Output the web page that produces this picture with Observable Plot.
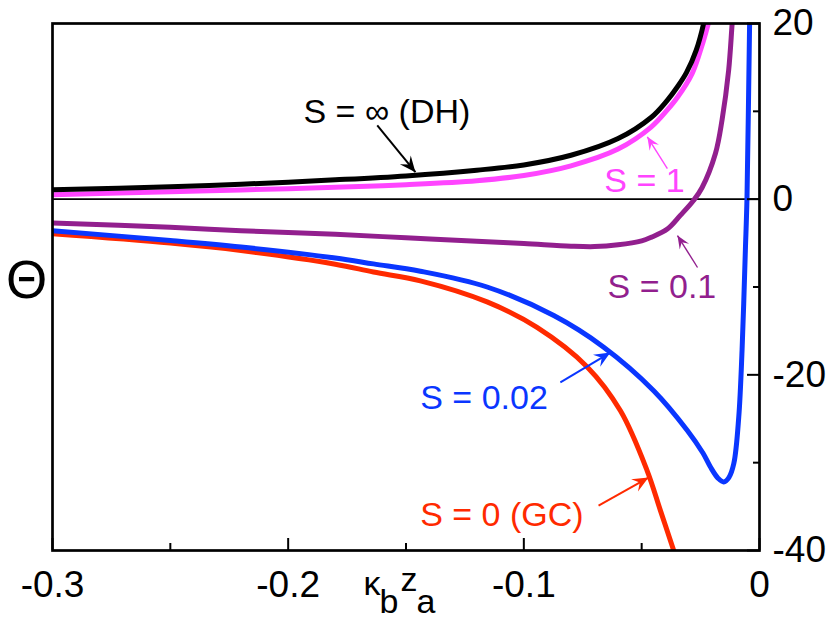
<!DOCTYPE html>
<html>
<head>
<meta charset="utf-8">
<script src="https://cdn.jsdelivr.net/npm/d3@7"></script>
<script src="https://cdn.jsdelivr.net/npm/@observablehq/plot@0.6"></script>
<style>
  html, body { margin: 0; padding: 0; background: #fff; }
</style>
</head>
<body>
<div id="chart"></div>
<script>
// ---- data ----
const xGC  = [-0.30, -0.25, -0.22, -0.18, -0.1638, -0.1439, -0.1156, -0.0944, -0.0731, -0.059, -0.0477, -0.0421, -0.0364, -0.034];
const yGC  = [-3.95, -5.0, -5.85, -7.4, -8.3, -9.3, -11.7, -14.6, -19.1, -24.1, -30.9, -35.4, -40, -42];

const xS002 = [-0.30, -0.25, -0.22, -0.18, -0.1638, -0.1439, -0.1156, -0.0873, -0.0661, -0.0449, -0.0307, -0.0240, -0.0208, -0.0175, -0.0152, -0.013, -0.0109, -0.0088, -0.0074, -0.006, -0.0053, -0.0042, -0.0040];
const yS002 = [-3.6, -4.7, -5.45, -6.7, -7.37, -8.2, -10.0, -13.25, -16.85, -21.8, -26.3, -28.9, -30.5, -31.8, -32.2, -31.7, -30.1, -24.8, -17.2, -5.85, 0.2, 20, 22];

const xS01 = [-0.30, -0.25, -0.22, -0.18, -0.15, -0.12, -0.10, -0.08, -0.07, -0.06, -0.05, -0.046, -0.0391, -0.0336, -0.028, -0.0244, -0.0187, -0.0159, -0.0131, -0.0116, -0.0110];
const yS01 = [-2.7, -3.2, -3.6, -4.0, -4.4, -4.8, -5.05, -5.35, -5.4, -5.2, -4.75, -4.35, -3.4, -1.85, -0.15, 1.3, 5.2, 9.0, 14.65, 20, 22];

const xS1 = [-0.30, -0.25, -0.22, -0.18, -0.15, -0.12, -0.10, -0.08, -0.06, -0.046, -0.0393, -0.0348, -0.0286, -0.0244, -0.0217, -0.0200];
const yS1 = [0.5, 0.85, 1.05, 1.35, 1.65, 2.1, 2.7, 3.8, 5.7, 8.2, 10.1, 11.6, 14.3, 17.5, 20, 21.5];

const xDH = [-0.30, -0.25, -0.22, -0.18, -0.15, -0.12, -0.10, -0.08, -0.06, -0.046, -0.0393, -0.0348, -0.031, -0.0268, -0.0237, -0.0220];
const yDH = [1.07, 1.4, 1.7, 2.2, 2.65, 3.3, 3.9, 5.0, 6.9, 9.3, 11.2, 12.8, 14.4, 17.0, 20, 22.5];

const seriesX = [xGC, xS002, xS01, xS1, xDH];
const seriesY = [yGC, yS002, yS01, yS1, yDH];
const seriesColors = ["#ff2a00", "#0a36ff", "#921f8e", "#ff45ff", "#000000"];

// annotation labels (text, anchor position in data units)
const labelText = ["S = 0 (GC)", "S = 0.02", "S = 0.1", "S = 1", "S = ∞ (DH)"];
const labelX = [-0.1093, -0.1169, -0.0414, -0.0488, -0.1581];
const labelY = [-36.0, -22.6, -9.96, 2.0, 9.86];

// arrows: tail (x1,y1) -> head (x2,y2)
const arrowX1 = [-0.0683, -0.0845, -0.0263, -0.0391, -0.1622];
const arrowY1 = [-34.88, -20.87, -7.78, 3.49, 8.39];
const arrowX2 = [-0.0471, -0.0633, -0.0348, -0.0476, -0.1460];
const arrowY2 = [-31.69, -17.46, -4.14, 7.10, 3.07];
const arrowWidth = [2, 2, 1.4, 1.4, 2];
const arrowBig = [true, true, false, false, true];

const xMajor = [-0.3, -0.2, -0.1, 0];
const xMinor = [-0.25, -0.15, -0.05];
const yMajor = [20, 0, -20, -40];
const yMinor = [10, -10, -30];

// ---- build tables ----
const lineMarks = seriesX.map((xs, i) =>
  Plot.line(xs.map((x, j) => ({x, y: seriesY[i][j]})), {
    x: "x", y: "y", stroke: seriesColors[i], strokeWidth: 5,
    curve: "catmull-rom", clip: true, strokeLinejoin: "round"
  })
);

const labels = labelText.map((t, i) => ({text: t, x: labelX[i], y: labelY[i], color: seriesColors[i]}));
const arrows = arrowX1.map((x1, i) => ({x1, y1: arrowY1[i], x2: arrowX2[i], y2: arrowY2[i], color: seriesColors[i], w: arrowWidth[i], big: arrowBig[i]}));

const fmt = d => (d === 0 ? "0" : String(d));
const FONT = "'Liberation Sans', Arial, Helvetica, sans-serif";

const baseOptions = {
  width: 830,
  height: 619,
  marginLeft: 52,
  marginRight: 71,
  marginTop: 23,
  marginBottom: 69,
  x: {domain: [-0.3, 0]},
  y: {domain: [-40, 20]},
  style: {fontFamily: FONT, background: "#fff", color: "#000"}
};

// concave arrowhead symbols, tip at origin, pointing along +x
function headSymbol(L, W, notch) {
  return {
    draw(context) {
      context.moveTo(0, 0);
      context.lineTo(-L, -W);
      context.lineTo(-L + notch, 0);
      context.lineTo(-L, W);
      context.closePath();
    }
  };
}
const bigHead = headSymbol(16, 7, 6);
const smallHead = headSymbol(13, 5.5, 5);

const baseMarks = [
  Plot.ruleY([0], {stroke: "#000", strokeWidth: 1.8}),
  ...lineMarks,
  Plot.frame({stroke: "#000", strokeWidth: 2.7}),
  Plot.axisX(xMajor, {tickSize: -12, tickPadding: 32, fontSize: 37, tickFormat: fmt, strokeWidth: 2, label: null}),
  Plot.axisX(xMinor, {tickSize: -7, tickFormat: () => "", strokeWidth: 2, label: null}),
  Plot.axisY(yMajor, {anchor: "right", tickSize: -13, tickPadding: 26, fontSize: 37, tickFormat: fmt, strokeWidth: 2, label: null}),
  Plot.axisY(yMinor, {anchor: "right", tickSize: -7, tickFormat: () => "", strokeWidth: 2, label: null}),
  Plot.link(arrows, {x1: "x1", y1: "y1", x2: "x2", y2: "y2", stroke: "color", strokeWidth: "w"}),
  Plot.text(labels, {x: "x", y: "y", text: "text", fill: "color", fontSize: 34, textAnchor: "middle"}),
  Plot.text(["Θ"], {frameAnchor: "left", dx: -26, dy: -6, fontSize: 53, textAnchor: "middle", fill: "#000"})
];

// first pass: get the scales to orient arrowheads in screen space
const probe = Plot.plot({...baseOptions, marks: baseMarks});
const sx = probe.scale("x"), sy = probe.scale("y");
arrows.forEach(a => {
  const dx = sx.apply(a.x2) - sx.apply(a.x1);
  const dy = sy.apply(a.y2) - sy.apply(a.y1);
  a.angle = Math.atan2(dy, dx) * 180 / Math.PI;
});

const chart = Plot.plot({
  ...baseOptions,
  marks: [
    ...baseMarks,
    Plot.dot(arrows.filter(a => a.big), {x: "x2", y: "y2", fill: "color", stroke: null, rotate: "angle", symbol: bigHead, r: 5}),
    Plot.dot(arrows.filter(a => !a.big), {x: "x2", y: "y2", fill: "color", stroke: null, rotate: "angle", symbol: smallHead, r: 5})
  ]
});

// x-axis title κ_b z_a
const t = d3.select(chart).append("text")
  .attr("font-family", FONT)
  .attr("font-size", 34)
  .attr("fill", "#000");
t.append("tspan").attr("x", 372).attr("y", 595).text("κ");
t.append("tspan").attr("x", 389).attr("y", 613).text("b");
t.append("tspan").attr("x", 409).attr("y", 591).text("z");
t.append("tspan").attr("x", 426).attr("y", 613).text("a");

document.getElementById("chart").appendChild(chart);
</script>
</body>
</html>
